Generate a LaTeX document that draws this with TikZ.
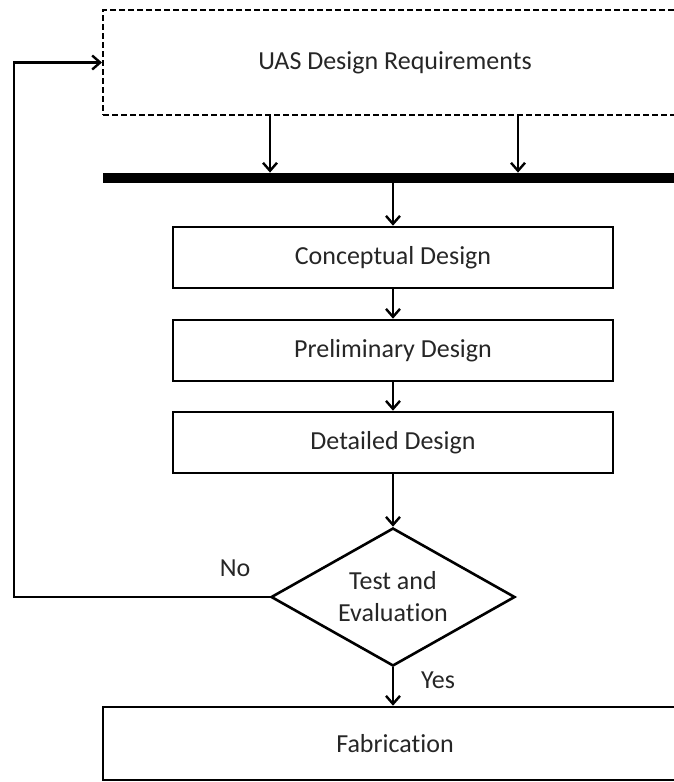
\documentclass[tikz,border=0pt]{standalone}
\usepackage{fontspec}
\setmainfont{Carlito}[Ligatures=NoCommon]
\usetikzlibrary{positioning,calc,shapes.geometric,arrows.meta}

\begin{document}
\begin{tikzpicture}[x=0.5pt,y=-0.5pt,
	label/.style={font=\fontsize{13}{16}\selectfont,text=black!85},
	stage/.style={draw,line width=1.3pt,label,minimum width=220pt,minimum height=30.5pt},
	flow/.style={line width=1.2pt,-{Straight Barb[length=4pt,width=7pt]}}]
%		\draw[lightgray,step=50] (0,0) grid (674,782);
		\useasboundingbox (0,0) rectangle (674,782);
		\clip (0,0) rectangle (674,782);
		% requirements box and the thick bus below it
		\node[draw,dashed,dash pattern=on 3pt off 1.5pt,line width=1pt,label,minimum width=292pt,minimum height=52.5pt] (uas) at (395,62.5) {UAS Design Requirements};
		\node[fill=black,inner sep=0pt,minimum width=292pt,minimum height=5pt] (bar) at (395,178) {};
		\coordinate (in1) at (270,0);
		\coordinate (in2) at (518,0);
		\draw[flow] (uas.south -| in1) -- (bar.north -| in1);
		\draw[flow] (uas.south -| in2) -- (bar.north -| in2);
		% design stages
		\node[stage] (concept) at (393,257.5) {Conceptual Design};
		\node[stage] (prelim) at (393,350.5) {Preliminary Design};
		\node[stage] (detail) at (393,442.5) {Detailed Design};
		\node[diamond,draw,line width=1.3pt,label,align=center,inner sep=0pt,aspect=1.77,minimum width=122pt,minimum height=69pt] (test) at (393,597) {Test and\\Evaluation};
		\node[stage,minimum width=292pt,minimum height=36.5pt] (fab) at (395,743.5) {Fabrication};
		\draw[flow] (concept.north |- bar.south) -- (concept.north);
		\draw[flow] (concept.south) -- (prelim.north);
		\draw[flow] (prelim.south) -- (detail.north);
		\draw[flow] (detail.south) -- (test.north);
		\draw[flow] (test.south) -- (test.south |- fab.north);
		\node[label] (yes) at (438,680) {Yes};
		% feedback loop back to the requirements
		\coordinate (back) at (14,0);
		\draw[flow] (test.west) -- (test.west -| back) |- (uas.west);
		\node[label] (no) at (235,568) {No};
\end{tikzpicture}
\end{document}
